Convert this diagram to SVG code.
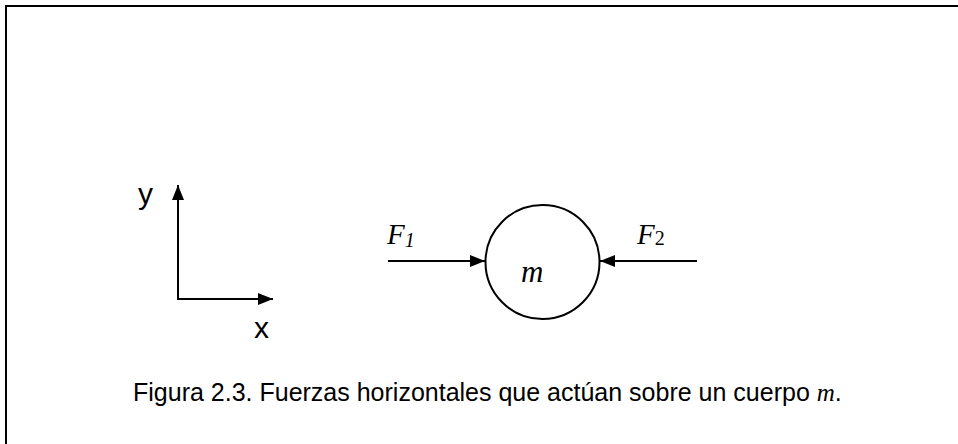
<svg xmlns="http://www.w3.org/2000/svg" width="958" height="444" viewBox="0 0 958 444">
<style>
.ln{stroke:#000;stroke-width:2;fill:none}
.sans{font-family:"Liberation Sans",Arial,sans-serif;fill:#000}
.serif{font-family:"Liberation Serif","Times New Roman",serif;font-style:italic;fill:#000}
</style>
<defs>
<marker id="ah" viewBox="0 0 15 12" refX="15" refY="6" markerWidth="15" markerHeight="12" markerUnits="userSpaceOnUse" orient="auto">
<path d="M0,0 L15,6 L0,12 Z" fill="#000"/>
</marker>
</defs>
<rect x="0" y="0" width="958" height="444" fill="#fff"/>
<rect x="6" y="6" width="960" height="450" class="ln"/>
<g id="axes">
<line x1="178" y1="300" x2="178" y2="185" class="ln" marker-end="url(#ah)"/>
<line x1="177" y1="299" x2="273" y2="299" class="ln" marker-end="url(#ah)"/>
<text x="138" y="204" class="sans" font-size="30">y</text>
<text x="254" y="338" class="sans" font-size="30">x</text>
</g>
<g id="mass">
<circle cx="542.5" cy="262" r="57" class="ln"/>
<text x="521" y="282" class="serif" font-size="31">m</text>
</g>
<g id="connectors">
<line x1="388" y1="261" x2="485" y2="261" class="ln" marker-end="url(#ah)"/>
<line x1="697" y1="261" x2="600" y2="261" class="ln" marker-end="url(#ah)"/>
</g>
<g id="labels">
<text x="387" y="244" class="serif" font-size="29">F<tspan font-size="20" dy="3">1</tspan></text>
<text x="637" y="244" class="serif" font-size="29">F<tspan font-size="20" dy="1" font-style="normal">2</tspan></text>
</g>
<text x="133" y="401" class="sans" font-size="25">Figura 2.3. Fuerzas horizontales que actúan sobre un cuerpo <tspan class="serif">m</tspan>.</text>
</svg>
